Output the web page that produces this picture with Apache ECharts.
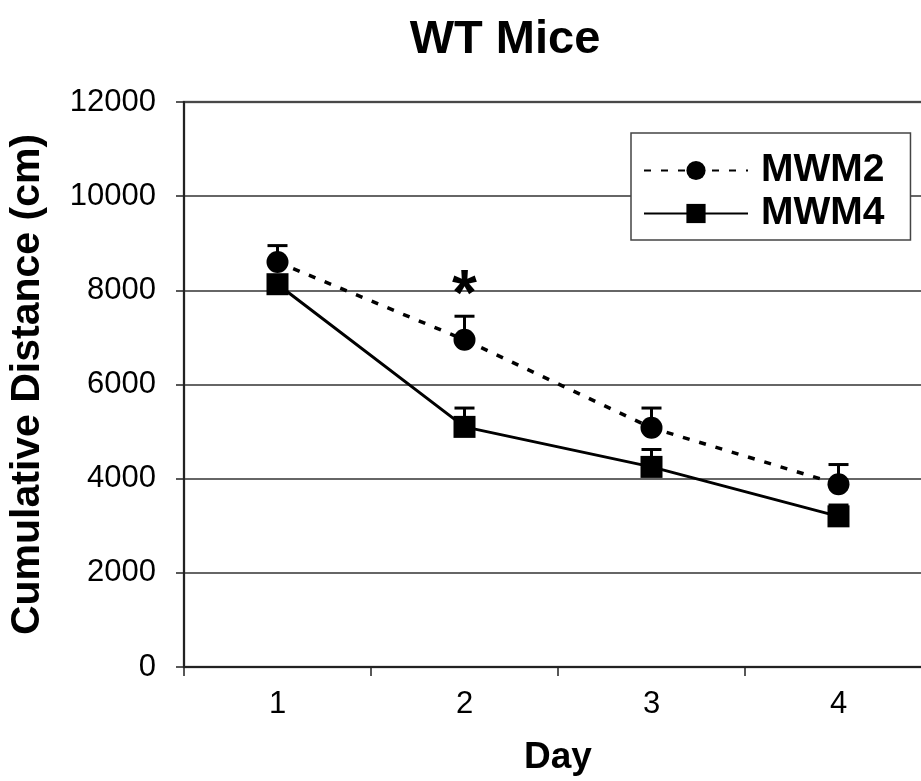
<!DOCTYPE html>
<html>
<head>
    <meta charset="utf-8">
    <title>WT Mice</title>
    <script src="https://cdn.jsdelivr.net/npm/echarts@6/dist/echarts.min.js"></script>
    <style>
        html, body { margin: 0; padding: 0; background: #fff; }
        #chart { width: 921px; height: 781px; }
    </style>
</head>
<body>
<div id="chart"></div>
<script>
    const days = ['1', '2', '3', '4'];
    const mwm2 = [8600, 6950, 5080, 3880];
    const mwm2Upper = [8950, 7450, 5500, 4300];
    const mwm4 = [8130, 5100, 4250, 3200];
    const mwm4Upper = [8300, 5500, 4620, 3440];
    const starDay = '2';
    const starValue = 7850;

    const font = '"Liberation Sans", Arial, sans-serif';

    // error bars: upward stem with a cap
    function errorBars(values, upper) {
        return {
            type: 'custom',
            silent: true,
            z: 3,
            data: days.map((d, i) => [i, values[i], upper[i]]),
            renderItem: (params, api) => {
                const base = api.coord([api.value(0), api.value(1)]);
                const top = api.coord([api.value(0), api.value(2)]);
                const half = 10;
                const style = { stroke: '#000', lineWidth: 3 };
                return {
                    type: 'group',
                    children: [
                        { type: 'line', shape: { x1: base[0], y1: base[1], x2: top[0], y2: top[1] }, style },
                        { type: 'line', shape: { x1: top[0] - half, y1: top[1], x2: top[0] + half, y2: top[1] }, style }
                    ]
                };
            }
        };
    }

    const chart = echarts.init(document.getElementById('chart'));
    chart.setOption({
        animation: false,
        backgroundColor: '#fff',
        title: {
            text: 'WT Mice',
            left: 500,
            top: 12,
            textAlign: 'center',
            textStyle: { fontFamily: font, fontSize: 47, fontWeight: 'bold', color: '#000' }
        },
        legend: {
            orient: 'vertical',
            left: 631,
            top: 133,
            padding: [18, 26, 7, 12],
            itemGap: 4,
            itemWidth: 104,
            itemHeight: 24,
            backgroundColor: '#fff',
            borderColor: '#444',
            borderWidth: 1.5,
            borderRadius: 0,
            textStyle: { fontFamily: font, fontSize: 39, fontWeight: 'bold', color: '#000', padding: [0, 0, 0, 8] },
            data: ['MWM2', 'MWM4']
        },
        grid: {
            left: 184,
            top: 102,
            width: 748,
            height: 565,
            show: true,
            borderColor: '#888',
            borderWidth: 2.5,
            containLabel: false,
            outerBoundsMode: 'none'
        },
        xAxis: {
            type: 'category',
            data: days,
            boundaryGap: true,
            name: 'Day',
            nameLocation: 'middle',
            nameGap: 72,
            nameTextStyle: { fontFamily: font, fontSize: 37, fontWeight: 'bold', color: '#000' },
            axisLine: { lineStyle: { color: '#222', width: 2 } },
            axisTick: { show: true, inside: false, length: 9, lineStyle: { color: '#222', width: 1.5 } },
            axisLabel: { fontFamily: font, fontSize: 31, color: '#000', margin: 22 },
            splitLine: { show: false }
        },
        yAxis: {
            type: 'value',
            min: 0,
            max: 12000,
            interval: 2000,
            name: 'Cumulative Distance (cm)',
            nameLocation: 'middle',
            nameGap: 136,
            nameTextStyle: { fontFamily: font, fontSize: 41, fontWeight: 'bold', color: '#000' },
            axisLine: { show: true, lineStyle: { color: '#222', width: 2 } },
            axisTick: { show: true, inside: false, length: 8, lineStyle: { color: '#222', width: 1.5 } },
            axisLabel: { fontFamily: font, fontSize: 31, color: '#000', margin: 28, formatter: v => String(v) },
            splitLine: { show: true, lineStyle: { color: '#333', width: 1.5 } }
        },
        series: [
            errorBars(mwm2, mwm2Upper),
            errorBars(mwm4, mwm4Upper),
            {
                name: 'MWM2',
                type: 'line',
                data: mwm2,
                z: 4,
                symbol: 'circle',
                symbolSize: 22,
                color: '#000',
                itemStyle: { color: '#000' },
                lineStyle: { color: '#000', width: 3.5, type: [7, 10] },
                markPoint: {
                    symbol: 'circle',
                    symbolSize: 1,
                    itemStyle: { color: 'rgba(0,0,0,0)' },
                    label: {
                        show: true,
                        formatter: '*',
                        fontFamily: font,
                        fontSize: 64,
                        fontWeight: 'bold',
                        color: '#000'
                    },
                    data: [{ coord: [starDay, starValue] }]
                }
            },
            {
                name: 'MWM4',
                type: 'line',
                data: mwm4,
                z: 4,
                symbol: 'rect',
                symbolSize: 22,
                color: '#000',
                itemStyle: { color: '#000' },
                lineStyle: { color: '#000', width: 3 }
            }
        ]
    });
</script>
</body>
</html>
